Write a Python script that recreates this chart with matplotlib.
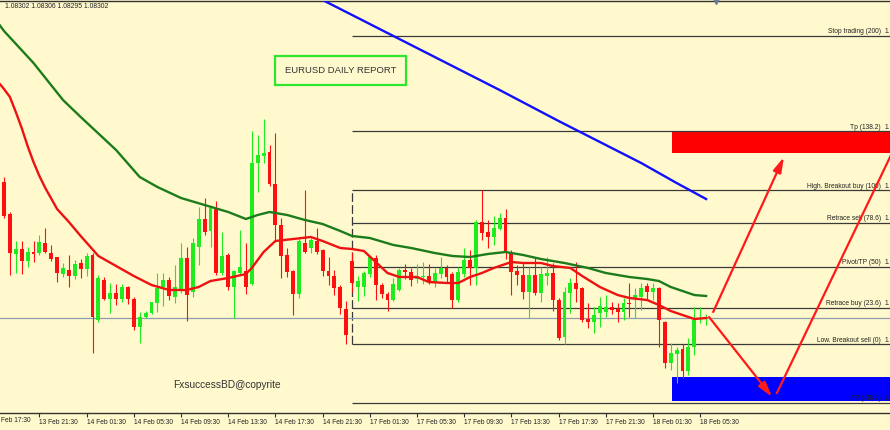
import numpy as np
import matplotlib.pyplot as plt
import matplotlib.transforms as mtransforms
from matplotlib.patches import Rectangle

plt.rcParams['font.family'] = ['Liberation Sans', 'DejaVu Sans']

# --- EURUSD M30 candles ---
opens = [
    1.08438, 1.08406, 1.08366, 1.08371, 1.08359, 1.08368, 1.08367, 1.08377, 1.08367, 1.08363,
    1.08346, 1.08350, 1.08344, 1.08357, 1.08351, 1.08365, 1.08300, 1.08340, 1.08321, 1.08327,
    1.08321, 1.08333, 1.08321, 1.08293, 1.08303, 1.08307, 1.08317, 1.08333, 1.08340, 1.08323,
    1.08330, 1.08362, 1.08328, 1.08373, 1.08401, 1.08389, 1.08411, 1.08347, 1.08365, 1.08333,
    1.08347, 1.08349, 1.08336, 1.08457, 1.08464, 1.08468, 1.08436, 1.08395, 1.08365, 1.08349,
    1.08326, 1.08377, 1.08372, 1.08379, 1.08370, 1.08349, 1.08344, 1.08333, 1.08311, 1.08359,
    1.08333, 1.08333, 1.08346, 1.08362, 1.08335, 1.08326, 1.08320, 1.08330, 1.08350, 1.08348,
    1.08341, 1.08343, 1.08344, 1.08338, 1.08346, 1.08352, 1.08346, 1.08320, 1.08346, 1.08360,
    1.08352, 1.08398, 1.08388, 1.08383, 1.08391, 1.08402, 1.08367, 1.08349, 1.08345, 1.08328,
    1.08345, 1.08327, 1.08344, 1.08347, 1.08320, 1.08283, 1.08327, 1.08337, 1.08332, 1.08301,
    1.08298, 1.08307, 1.08308, 1.08313, 1.08311, 1.08308, 1.08317, 1.08321, 1.08323, 1.08334,
    1.08328, 1.08332, 1.08298, 1.08257, 1.08266, 1.08271, 1.08249, 1.08273, 1.08301, 1.08302,
]
highs = [
    1.08443, 1.08408, 1.08379, 1.08379, 1.08373, 1.08379, 1.08385, 1.08392, 1.08375, 1.08363,
    1.08357, 1.08365, 1.08360, 1.08361, 1.08367, 1.08367, 1.08345, 1.08343, 1.08337, 1.08336,
    1.08336, 1.08334, 1.08323, 1.08308, 1.08309, 1.08318, 1.08347, 1.08347, 1.08343, 1.08355,
    1.08377, 1.08373, 1.08382, 1.08413, 1.08422, 1.08414, 1.08419, 1.08388, 1.08367, 1.08350,
    1.08390, 1.08377, 1.08489, 1.08485, 1.08501, 1.08475, 1.08487, 1.08402, 1.08372, 1.08350,
    1.08382, 1.08430, 1.08382, 1.08392, 1.08371, 1.08363, 1.08350, 1.08335, 1.08319, 1.08368,
    1.08344, 1.08349, 1.08364, 1.08365, 1.08337, 1.08328, 1.08342, 1.08352, 1.08356, 1.08352,
    1.08356, 1.08358, 1.08356, 1.08352, 1.08363, 1.08355, 1.08348, 1.08353, 1.08372, 1.08370,
    1.08400, 1.08430, 1.08400, 1.08404, 1.08407, 1.08411, 1.08370, 1.08355, 1.08358, 1.08353,
    1.08362, 1.08353, 1.08363, 1.08357, 1.08322, 1.08333, 1.08342, 1.08358, 1.08333, 1.08317,
    1.08313, 1.08323, 1.08325, 1.08318, 1.08317, 1.08322, 1.08337, 1.08332, 1.08337, 1.08337,
    1.08337, 1.08333, 1.08299, 1.08277, 1.08273, 1.08276, 1.08282, 1.08313, 1.08313, 1.08306,
]
lows = [
    1.08402, 1.08345, 1.08347, 1.08346, 1.08353, 1.08358, 1.08365, 1.08367, 1.08359, 1.08338,
    1.08343, 1.08333, 1.08341, 1.08342, 1.08344, 1.08267, 1.08298, 1.08320, 1.08307, 1.08315,
    1.08318, 1.08316, 1.08290, 1.08277, 1.08302, 1.08306, 1.08308, 1.08314, 1.08320, 1.08317,
    1.08327, 1.08299, 1.08323, 1.08355, 1.08385, 1.08373, 1.08345, 1.08345, 1.08330, 1.08302,
    1.08345, 1.08326, 1.08335, 1.08428, 1.08457, 1.08434, 1.08380, 1.08342, 1.08343, 1.08305,
    1.08322, 1.08367, 1.08367, 1.08366, 1.08344, 1.08335, 1.08325, 1.08306, 1.08276, 1.08328,
    1.08319, 1.08324, 1.08343, 1.08320, 1.08322, 1.08309, 1.08319, 1.08329, 1.08341, 1.08334,
    1.08337, 1.08336, 1.08336, 1.08333, 1.08342, 1.08337, 1.08312, 1.08318, 1.08343, 1.08335,
    1.08335, 1.08380, 1.08372, 1.08375, 1.08390, 1.08361, 1.08325, 1.08335, 1.08321, 1.08302,
    1.08325, 1.08318, 1.08335, 1.08309, 1.08280, 1.08276, 1.08307, 1.08318, 1.08298, 1.08292,
    1.08287, 1.08293, 1.08303, 1.08306, 1.08298, 1.08300, 1.08303, 1.08302, 1.08310, 1.08320,
    1.08320, 1.08273, 1.08252, 1.08250, 1.08237, 1.08242, 1.08245, 1.08265, 1.08297, 1.08295,
]
closes = [
    1.08404, 1.08367, 1.08371, 1.08359, 1.08368, 1.08366, 1.08378, 1.08368, 1.08361, 1.08347,
    1.08352, 1.08344, 1.08356, 1.08351, 1.08364, 1.08303, 1.08342, 1.08321, 1.08327, 1.08321,
    1.08333, 1.08321, 1.08293, 1.08303, 1.08307, 1.08318, 1.08332, 1.08340, 1.08324, 1.08333,
    1.08362, 1.08325, 1.08377, 1.08401, 1.08388, 1.08412, 1.08347, 1.08364, 1.08333, 1.08349,
    1.08353, 1.08333, 1.08457, 1.08465, 1.08467, 1.08436, 1.08395, 1.08364, 1.08348, 1.08326,
    1.08379, 1.08368, 1.08380, 1.08368, 1.08349, 1.08344, 1.08332, 1.08312, 1.08285, 1.08337,
    1.08339, 1.08347, 1.08363, 1.08335, 1.08326, 1.08320, 1.08336, 1.08350, 1.08348, 1.08340,
    1.08344, 1.08344, 1.08338, 1.08347, 1.08352, 1.08343, 1.08320, 1.08348, 1.08360, 1.08352,
    1.08398, 1.08387, 1.08383, 1.08392, 1.08402, 1.08367, 1.08348, 1.08345, 1.08328, 1.08345,
    1.08327, 1.08346, 1.08347, 1.08320, 1.08282, 1.08328, 1.08337, 1.08331, 1.08300, 1.08298,
    1.08305, 1.08314, 1.08313, 1.08310, 1.08308, 1.08317, 1.08316, 1.08325, 1.08332, 1.08328,
    1.08332, 1.08300, 1.08257, 1.08267, 1.08270, 1.08249, 1.08273, 1.08300, 1.08302, 1.08302,
]

# time axis: one label every 8 bars (first one is cut by the left edge)
first_label = "Feb 17:30"
tick_bars = list(range(6, 119, 8))
tick_labels = ["13 Feb 21:30", "14 Feb 01:30", "14 Feb 05:30",
               "14 Feb 09:30", "14 Feb 13:30", "14 Feb 17:30", "14 Feb 21:30",
               "17 Feb 01:30", "17 Feb 05:30", "17 Feb 09:30", "17 Feb 13:30",
               "17 Feb 17:30", "17 Feb 21:30", "18 Feb 01:30", "18 Feb 05:30"]

# moving averages (sampled at bar positions)
red_ma_bar = [-1, 0, 1, 2, 3, 4, 5, 6, 7, 9, 11, 13, 16, 19, 22, 25, 28, 31, 33, 35,
              38, 41, 42, 44, 46, 49, 52, 54, 57, 59, 61, 63, 65, 67, 70, 72, 75, 77, 79, 81,
              83, 86, 88, 91, 93, 96, 98, 101, 104, 106, 109, 111, 113, 115, 117, 119]
red_ma = [1.08538, 1.08531, 1.08523, 1.08508, 1.08492, 1.08474, 1.08458, 1.08444, 1.08432, 1.08411,
          1.08398, 1.08384, 1.08364, 1.08354, 1.08344, 1.08335, 1.08330, 1.08330, 1.08333, 1.08339,
          1.08342, 1.08346, 1.08352, 1.08368, 1.08379, 1.08381, 1.08383, 1.08379, 1.08372, 1.08371,
          1.08369, 1.08358, 1.08347, 1.08343, 1.08343, 1.08338, 1.08337, 1.08337, 1.08343, 1.08347,
          1.08352, 1.08358, 1.08357, 1.08357, 1.08354, 1.08352, 1.08344, 1.08333, 1.08325, 1.08322,
          1.08320, 1.08315, 1.08309, 1.08305, 1.08301, 1.08302]
green_ma_bar = [-1, 0, 5, 10, 13, 19, 23, 26, 30, 34, 38, 41, 43, 45, 48, 51, 54, 57, 59, 62,
                66, 69, 73, 76, 79, 82, 85, 88, 91, 95, 99, 102, 106, 109, 111, 113, 115, 117, 119]
green_ma = [1.08597, 1.08589, 1.08557, 1.08520, 1.08503, 1.08470, 1.08443, 1.08433, 1.08422, 1.08415,
            1.08408, 1.08401, 1.08405, 1.08408, 1.08405, 1.08400, 1.08396, 1.08389, 1.08384, 1.08382,
            1.08375, 1.08372, 1.08367, 1.08364, 1.08363, 1.08366, 1.08368, 1.08365, 1.08361, 1.08357,
            1.08352, 1.08347, 1.08343, 1.08341, 1.08339, 1.08333, 1.08329, 1.08325, 1.08324]
blue_ma_bar = [50, 54, 64, 74, 84, 94, 101, 108, 114, 119]
blue_ma = [1.08632, 1.08620, 1.08590, 1.08560, 1.08530, 1.08499, 1.08478, 1.08457, 1.08437, 1.08421]

# daily fibonacci object
fib_bar = 59
fib_low, fib_high = 1.08276, 1.08430
fib_ratios = [2.0, 1.382, 1.0, 0.786, 0.5, 0.236, 0.0, -0.382]
fib_names = ["Stop trading (200)", "Tp (138.2)", "High. Breakout buy (100)", "Retrace sell (78.6)",
             "Pivot/TP (50)", "Retrace buy (23.6)", "Low. Breakout sell (0)", "TP (-38.2)"]

# target zones and projection lines (bar, price)
sell_zone = (113.2, 1.08467, 1.08489)
buy_zone = (113.2, 1.08219, 1.08243)
arrow_up = ((120.2, 1.08308), (132.2, 1.08463))
arrow_down = ((119.5, 1.08303), (130.2, 1.08223))
line_up = ((131.0, 1.08227), (152.7, 1.08494))

bg = '#fff9cd'
bull = '#1fec1f'
bear = '#ff1010'

fig = plt.figure(figsize=(8.9, 4.3), dpi=100, facecolor=bg)
ax = fig.add_axes([0, 17 / 430, 1, 412 / 430], facecolor=bg)

x = np.arange(len(opens))
o = np.array(opens)
h = np.array(highs)
l = np.array(lows)
c = np.array(closes)
cols = np.where(c >= o, bull, bear)

ax.vlines(x, l, h, colors=cols, lw=0.8, zorder=3)
ax.bar(x, np.maximum(np.abs(c - o), 0.000012), bottom=np.minimum(o, c), width=0.66,
       color=cols, linewidth=0, zorder=3.1)

# zones
for (start, lo, hi), col in [(sell_zone, '#ff0000'), (buy_zone, '#0000ff')]:
    ax.add_patch(Rectangle((start, lo), 60, hi - lo, facecolor=col, edgecolor='none', zorder=1.2))

# fib levels
rng = fib_high - fib_low
for r, name in zip(fib_ratios, fib_names):
    lvl = fib_low + r * rng
    ax.hlines(lvl, fib_bar, 170, color='#3a3a3a', lw=0.9, zorder=1.5)
    ax.text(148.6, lvl + 0.000005, name, ha='right', va='bottom', fontsize=4.8,
            color='#222222', zorder=5)
    # only the start of the price fits before the right edge
    ax.text(149.2, lvl + 0.000005, f"{lvl:.5f}"[:2], ha='left', va='bottom', fontsize=4.8,
            color='#222222', zorder=5)
ax.vlines(fib_bar, fib_low, fib_high, color='#3a3a3a', lw=0.9, linestyles=(0, (7, 2.5)), zorder=1.5)

# bid line
ax.axhline(closes[-1], color='#8d9cad', lw=0.9, zorder=2)

# moving averages
ax.plot(blue_ma_bar, blue_ma, color='#1010ff', lw=1.7, zorder=4)
ax.plot(green_ma_bar, green_ma, color='#1c7c1c', lw=1.7, zorder=4)
ax.plot(red_ma_bar, red_ma, color='#ee1111', lw=1.7, zorder=4.1)

# projection arrows
red = '#ff1a1a'
for (x0, y0), (x1, y1) in [arrow_up, arrow_down]:
    ax.annotate('', xy=(x1, y1), xytext=(x0, y0),
                arrowprops=dict(arrowstyle='-|>,head_length=0.9,head_width=0.25', color=red,
                                lw=1.6, shrinkA=0, shrinkB=0), zorder=5)
ax.plot([line_up[0][0], line_up[1][0]], [line_up[0][1], line_up[1][1]], color=red, lw=1.6, zorder=5)

# labels on chart
ax.add_patch(Rectangle((45.9, 1.08535), 22.2, 0.00029, facecolor='none',
                       edgecolor='#2ee62e', lw=1.6, zorder=5))
ax.text(57.0, 1.085495, "EURUSD DAILY REPORT", ha='center', va='center', fontsize=6.8,
        color='#333333', zorder=5)
ax.text(28.6, 1.08235, "FxsuccessBD@copyrite", ha='left', va='center', fontsize=7.3,
        color='#333333', zorder=5)
fig.text(5 / 890, 1 - 6 / 430, f"{opens[-1]:.5f} {highs[-1]:.5f} {lows[-1]:.5f} {closes[-1]:.5f}",
         ha='left', va='center', fontsize=4.9, color='#222222')

# chart shift marker
ax.plot([120.7], [1.08619], marker='v', ms=5, color='#6b7b99', clip_on=False, zorder=6)

ax.set_xlim(-4 / 5.9, 886 / 5.9)
ax.set_ylim(1.08207, 1.08619)
for side in ['left', 'right']:
    ax.spines[side].set_visible(False)
for side in ['top', 'bottom']:
    ax.spines[side].set_color('#333333')
    ax.spines[side].set_linewidth(1)
ax.tick_params(axis='y', left=False, labelleft=False)
ax.set_xticks(tick_bars)
ax.set_xticklabels(tick_labels, ha='left', fontsize=4.8, color='#222222')
ax.tick_params(axis='x', direction='out', length=3, width=0.8, color='#333333', pad=1.5)
# partial first label at the left edge
trans = mtransforms.blended_transform_factory(ax.transData, ax.transAxes)
ax.text(-0.5, -3.5 / 412, first_label, transform=trans, ha='left', va='top',
        fontsize=4.8, color='#222222', clip_on=False)

fig.savefig('out.png', dpi=100, facecolor=bg)
